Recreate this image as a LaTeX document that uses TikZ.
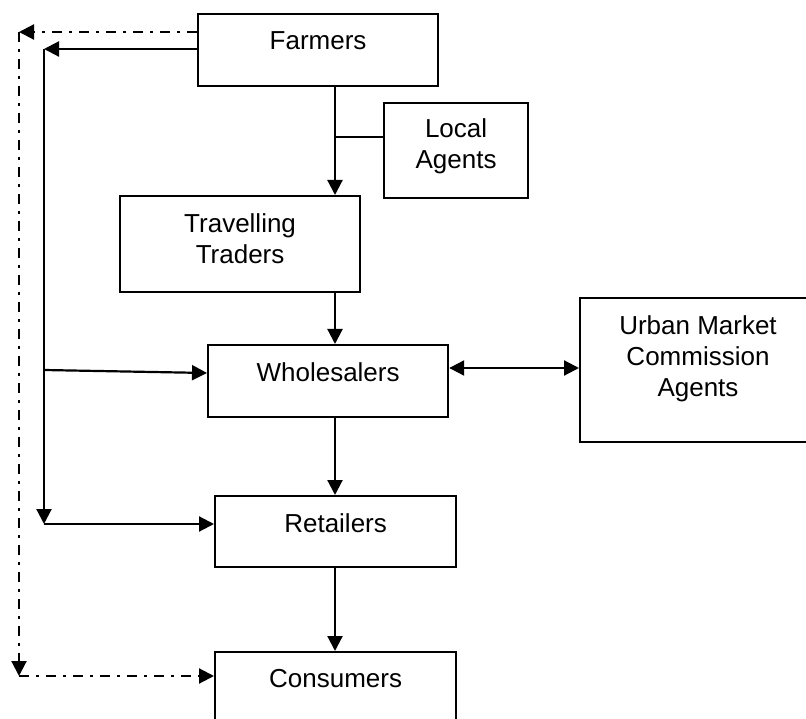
\documentclass[tikz,border=0pt]{standalone}
\usepackage{fontspec}
\setmainfont{Liberation Sans}
\usetikzlibrary{arrows.meta}
\begin{document}
\begin{tikzpicture}[x=1pt,y=-1pt,
  box/.style={draw, line width=2.2pt, inner sep=0pt},
  txt/.style={anchor=north, inner sep=0pt, align=center, font={\fontsize{26}{31}\selectfont}},
  conn/.style={line width=2.2pt},
  arr/.style={conn, -{Triangle[length=15pt,width=15pt]}},
  darr/.style={conn, {Triangle[length=15pt,width=15pt]}-{Triangle[length=15pt,width=15pt]}},
  dd/.style={line width=2.2pt, dash pattern=on 10pt off 7pt on 3pt off 7pt},
  ddarr/.style={dd, -{Triangle[length=15pt,width=15pt]}}]
\useasboundingbox (0,0) rectangle (806,719);
% boxes
\node[box, minimum width=240pt, minimum height=72pt, anchor=north west] (F) at (197,13) {};
\node[box, minimum width=144pt, minimum height=95pt, anchor=north west] (LA) at (383,102) {};
\node[box, minimum width=240pt, minimum height=96pt, anchor=north west] (TT) at (119,195) {};
\node[box, minimum width=240pt, minimum height=72pt, anchor=north west] (W) at (207,344) {};
\node[box, minimum width=235pt, minimum height=144pt, anchor=north west] (U) at (579,297) {};
\node[box, minimum width=241pt, minimum height=71pt, anchor=north west] (R) at (214,495) {};
\node[box, minimum width=241pt, minimum height=80pt, anchor=north west] (C) at (214,651) {};
% texts
\node[txt] (Ft) at ([yshift=-18pt]F.north) {Farmers};
\node[txt] (LAt) at ([yshift=-16pt]LA.north) {Local\\Agents};
\node[txt] (TTt) at ([yshift=-18pt]TT.north) {Travelling\\Traders};
\node[txt] (Wt) at ([yshift=-18pt]W.north) {Wholesalers};
\node[txt] (Ut) at (698,315) {Urban Market\\Commission\\Agents};
\node[txt] (Rt) at ([yshift=-18pt]R.north) {Retailers};
\node[txt] (Ct) at ([yshift=-18pt]C.north) {Consumers};
% helper coordinates
\coordinate (spine) at (335,0);
\coordinate (la) at (335,137);
\coordinate (wu) at (0,368);
\coordinate (fs) at (0,49);
\coordinate (fd) at (0,32);
\coordinate (s1) at (44,49);
\coordinate (s2) at (44,524);
\coordinate (sw) at (44,370);
\coordinate (d1) at (19,32);
\coordinate (d2) at (19,676);
% main chain
\draw[arr] (F.south -| spine) -- (TT.north -| spine);
\draw[conn] (la) -- (la -| LA.west);
\draw[arr] (TT.south -| spine) -- (W.north -| spine);
\draw[darr] (W.east |- wu) -- (U.west |- wu);
\draw[arr] (W.south -| spine) -- (R.north -| spine);
\draw[arr] (R.south -| spine) -- (C.north -| spine);
% solid bypass
\draw[arr] (F.west |- fs) -- (s1);
\draw[arr] (s1) -- (s2);
\draw[arr] (sw) -- ([yshift=-3pt]W.west |- sw);
\draw[arr] (s2) -- (R.west |- s2);
% dash-dot bypass
\draw[ddarr] (F.west |- fd) -- (d1);
\draw[ddarr] (d1) -- (d2);
\draw[ddarr] (d2) -- (C.west |- d2);
\end{tikzpicture}
\end{document}
